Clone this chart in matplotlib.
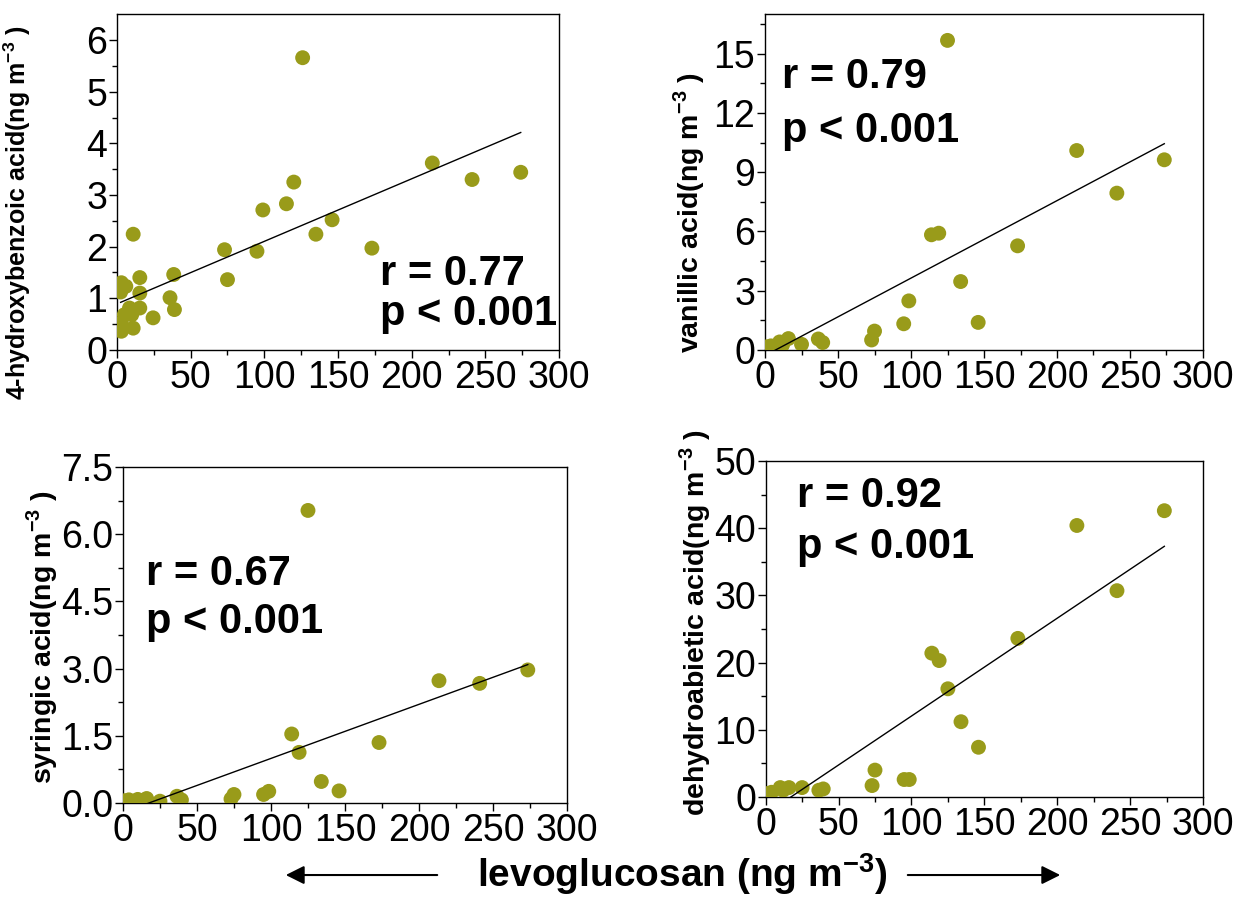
import matplotlib
matplotlib.use('Agg')
import matplotlib.pyplot as plt
import numpy as np

plt.rcParams['font.family'] = ['Liberation Sans', 'DejaVu Sans']
plt.rcParams['mathtext.fontset'] = 'custom'
plt.rcParams['mathtext.rm'] = 'Liberation Sans'
plt.rcParams['mathtext.bf'] = 'Liberation Sans:bold'

# levoglucosan (x) for panel 1 - more low samples
lev1 = [3, 6, 2.5, 11, 15.5, 15.5, 15.5, 8.5, 5, 10, 3, 3, 11, 24.5, 36, 38.5, 39,
        73, 75, 95, 99, 115, 120, 126, 135, 146, 173, 214, 241, 274]
hba = [1.30, 1.23, 1.12, 2.24, 1.40, 1.10, 0.81, 0.81, 0.68, 0.68, 0.52, 0.36, 0.42,
       0.62, 1.01, 1.46, 0.78, 1.94, 1.36, 1.91, 2.71, 2.83, 3.25, 5.66, 2.24, 2.52,
       1.97, 3.62, 3.30, 3.44]

# levoglucosan (x) for the other three panels
lev = [1, 4, 10, 12, 16, 25, 36.5, 39.5, 73, 75, 95, 98.5, 114, 119, 125, 134, 146,
       173, 213.5, 241, 273.5]
vanillic = [0.15, 0.2, 0.4, 0.25, 0.57, 0.28, 0.55, 0.37, 0.5, 0.95, 1.32, 2.48, 5.83,
            5.91, 15.68, 3.46, 1.39, 5.27, 10.1, 7.94, 9.63]
syringic = [0.05, 0.07, 0.08, 0.05, 0.1, 0.04, 0.15, 0.07, 0.09, 0.19, 0.19, 0.26, 1.54,
            1.13, 6.53, 0.48, 0.27, 1.35, 2.73, 2.67, 2.97]
dehydro = [0.5, 0.7, 1.4, 1.0, 1.4, 1.4, 1.0, 1.2, 1.7, 4.0, 2.6, 2.6, 21.4, 20.3, 16.1,
           11.2, 7.4, 23.6, 40.4, 30.7, 42.6]

# fitted lines (slope, intercept)
fits = [(0.01212, 0.89), (0.03925, -0.29), (0.01207, -0.212), (0.1456, -2.52)]
r_vals = ['0.77', '0.79', '0.67', '0.92']

ylabels = ['4-hydroxybenzoic acid(ng m$^{\\mathbf{-3}}$ )',
           'vanillic acid(ng m$^{\\mathbf{-3}}$ )',
           'syringic acid(ng m$^{\\mathbf{-3}}$ )',
           'dehydroabietic acid(ng m$^{\\mathbf{-3}}$ )']

col = '#999b1a'

fig = plt.figure(figsize=(12.47, 8.97), dpi=100)
# [left, bottom, width, height]
boxes = [[0.0938, 0.610, 0.3545, 0.374],
         [0.6135, 0.610, 0.3512, 0.374],
         [0.0986, 0.1048, 0.3561, 0.3746],
         [0.614, 0.1115, 0.3507, 0.3746]]
xs = [lev1, lev, lev, lev]
ys = [hba, vanillic, syringic, dehydro]
ylims = [(0, 6.5), (0, 17), (0, 7.5), (0, 50)]
yticks = [np.arange(0, 7, 1), np.arange(0, 16, 3), np.arange(0, 7.6, 1.5), np.arange(0, 51, 10)]
ytfmt = ['%d', '%d', '%.1f', '%d']
txt_pos = [(0.595, 0.193, 0.075), (0.039, 0.78, 0.62), (0.052, 0.649, 0.505), (0.071, 0.863, 0.712)]
lab_pos = [(-0.19, 0.41), (-0.132, 0.41), (-0.142, 0.494), (-0.121, 0.52)]
lab_size = [18, 20.5, 20.5, 20.5]

for i in range(4):
    ax = fig.add_axes(boxes[i])
    ax.scatter(xs[i], ys[i], s=115, color=col, edgecolors='none', zorder=3)
    m, b = fits[i]
    xx = np.array([min(xs[i]), max(xs[i])])
    ax.plot(xx, m * xx + b, color='black', lw=1.0, zorder=4)
    ax.set_xlim(0, 300)
    ax.set_ylim(*ylims[i])
    ax.set_xticks(np.arange(0, 301, 50))
    ax.set_xticks(np.arange(25, 300, 50), minor=True)
    ax.set_yticks(yticks[i])
    step = yticks[i][1] - yticks[i][0]
    ax.set_yticks(np.arange(step / 2, ylims[i][1], step), minor=True)
    ax.set_yticklabels([ytfmt[i] % v for v in yticks[i]])
    ax.tick_params(which='both', direction='out', top=False, right=False, width=1)
    ax.tick_params(which='major', length=6, labelsize=27, pad=1)
    ax.tick_params(which='minor', length=3.5)
    for sp in ax.spines.values():
        sp.set_linewidth(1)
    ax.set_ylabel(ylabels[i], fontsize=lab_size[i], fontweight='bold')
    ax.yaxis.set_label_coords(*lab_pos[i])
    tx, ry, py = txt_pos[i]
    ax.text(tx, ry, 'r = ' + r_vals[i], transform=ax.transAxes, fontsize=30,
            fontweight='bold', va='baseline')
    ax.text(tx, py, 'p < 0.001', transform=ax.transAxes, fontsize=30,
            fontweight='bold', va='baseline')

fig.text(0.547, 0.026, 'levoglucosan (ng m$^{\\mathbf{-3}}$)', ha='center', va='center',
         fontsize=28, fontweight='bold')
fig.patches.append(matplotlib.patches.FancyArrowPatch(
    (440 / 1247, 0.0245), (283 / 1247, 0.0245), transform=fig.transFigure,
    arrowstyle='-|>', mutation_scale=28, color='black', lw=1.5))
fig.patches.append(matplotlib.patches.FancyArrowPatch(
    (905 / 1247, 0.0245), (1063 / 1247, 0.0245), transform=fig.transFigure,
    arrowstyle='-|>', mutation_scale=28, color='black', lw=1.5))

fig.savefig('out.png', dpi=100)
